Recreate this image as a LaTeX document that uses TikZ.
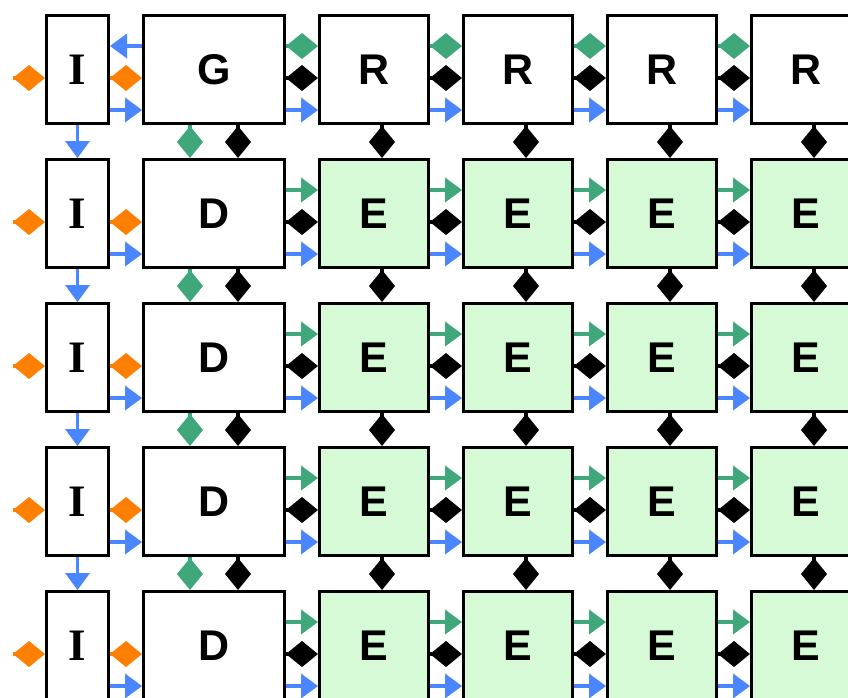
\documentclass[tikz,border=0pt]{standalone}
\usepackage{fontspec}
\setmainfont{Liberation Sans}
\newfontfamily\serifbold{Liberation Serif}
\usetikzlibrary{arrows.meta}
\definecolor{cblue}{HTML}{4A86FF}
\definecolor{cgreen}{HTML}{3FA87A}
\definecolor{corange}{HTML}{FF8000}
\definecolor{cfill}{HTML}{D5FAD5}
\begin{document}
\begin{tikzpicture}[x=1pt,y=-1pt,
 box/.style={draw=black,line width=3pt,inner sep=0pt,minimum height=108pt,font=\fontsize{43}{43}\selectfont\bfseries},
 ibox/.style={box,minimum width=62pt,font=\fontsize{45}{45}\selectfont\serifbold\bfseries},
 gbox/.style={box,minimum width=141pt},
 ebox/.style={box,minimum width=109pt},
 efill/.style={fill=cfill},
 conn/.style={line width=3.5pt},
 barrow/.style={conn,draw=cblue,-{Triangle[length=17pt,width=25pt,line width=0pt]}},
 garrow/.style={conn,draw=cgreen,-{Triangle[length=17pt,width=25pt,line width=0pt]}},
 odia/.style={conn,draw=corange,-{Diamond[length=32pt,width=26pt,line width=0pt]}},
 gdia/.style={conn,draw=cgreen,-{Diamond[length=32pt,width=26pt,line width=0pt]}},
 kdia/.style={conn,draw=black,-{Diamond[length=32pt,width=26pt,line width=0pt]}},
]
\useasboundingbox (0,0) rectangle (848,697);
% boxes
\foreach \ri in {1,...,5}{
  \pgfmathsetmacro\yy{69.5+144*(\ri-1)}
  \node[ibox] (I\ri) at (77.5,\yy) {I};
  \ifnum\ri=1
    \node[gbox] (M\ri) at (214,\yy) {G};
  \else
    \node[gbox] (M\ri) at (214,\yy) {D};
  \fi
  \foreach \ci/\xx in {1/374,2/518,3/662,4/806}{
    \ifnum\ri=1
      \node[ebox] (X\ri\ci) at (\xx,\yy) {R};
    \else
      \node[ebox,efill] (X\ri\ci) at (\xx,\yy) {E};
    \fi
  }
  \coordinate (L\ri) at (12.5,\yy+8.5);
}
% horizontal connectors
\foreach \ri in {1,...,5}{
  \draw[odia] (L\ri) -- ([yshift=-8.5pt]I\ri.west);
  \draw[odia] ([yshift=-8.5pt]I\ri.east) -- ([yshift=-8.5pt]M\ri.west);
  \draw[barrow] ([yshift=-40.5pt]I\ri.east) -- ([yshift=-40.5pt]M\ri.west);
  \foreach \pa/\pb in {M\ri/X\ri1, X\ri1/X\ri2, X\ri2/X\ri3, X\ri3/X\ri4}{
    \ifnum\ri=1
      \draw[gdia] ([yshift=23.5pt]\pa.east) -- ([yshift=23.5pt]\pb.west);
    \else
      \draw[garrow] ([yshift=23.5pt]\pa.east) -- ([yshift=23.5pt]\pb.west);
    \fi
    \draw[kdia] ([yshift=-8.5pt]\pa.east) -- ([yshift=-8.5pt]\pb.west);
    \draw[barrow] ([yshift=-40.5pt]\pa.east) -- ([yshift=-40.5pt]\pb.west);
  }
}
\draw[barrow] ([yshift=23.5pt]M1.west) -- ([yshift=23.5pt]I1.east);
% vertical connectors
\foreach \ri in {1,...,4}{
  \pgfmathtruncatemacro\rn{\ri+1}
  \draw[barrow] (I\ri.south) -- (I\rn.north);
  \draw[gdia] ([xshift=-24pt]M\ri.south) -- ([xshift=-24pt]M\rn.north);
  \draw[kdia] ([xshift=24pt]M\ri.south) -- ([xshift=24pt]M\rn.north);
  \foreach \ci in {1,...,4}{
    \draw[kdia] ([xshift=8pt]X\ri\ci.south) -- ([xshift=8pt]X\rn\ci.north);
  }
}
\end{tikzpicture}
\end{document}
